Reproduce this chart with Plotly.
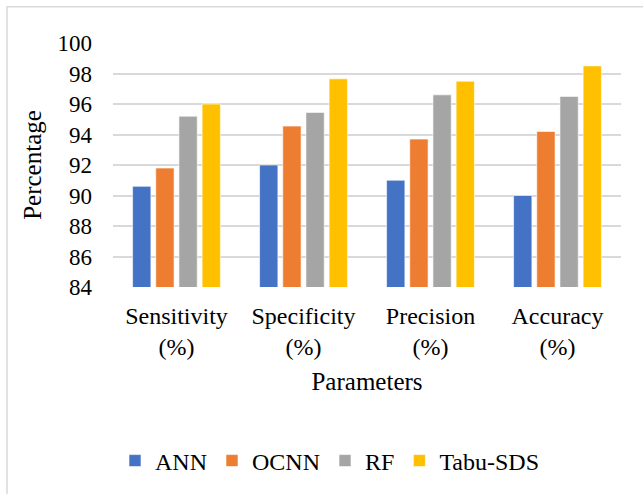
import plotly.graph_objects as go

categories = ["Sensitivity<br>(%)", "Specificity<br>(%)", "Precision<br>(%)", "Accuracy<br>(%)"]
ann = [90.6, 92.0, 91.0, 90.0]
ocnn = [91.8, 94.55, 93.7, 94.2]
rf = [95.2, 95.45, 96.6, 96.5]
tabu = [96.0, 97.65, 97.5, 98.5]

series_names = ["ANN", "OCNN", "RF", "Tabu-SDS"]
series_values = [ann, ocnn, rf, tabu]
colors = ["#4472C4", "#ED7D31", "#A5A5A5", "#FFC000"]

FONT = "Liberation Serif, Times New Roman, serif"

fig = go.Figure()
for name, vals, col in zip(series_names, series_values, colors):
    fig.add_trace(go.Bar(
        x=categories, y=vals, name=name,
        marker=dict(color=col, line=dict(color="rgba(255,255,255,0.6)", width=1)),
    ))

W, H = 643, 494
L, R, T, B = 113, 22, 43, 206
pw = W - L - R
ph = H - T - B

def px_x(x):
    return (x - L) / pw

def px_y(y):
    return (H - B - y) / ph

fig.update_layout(
    width=W, height=H,
    margin=dict(l=L, r=R, t=T, b=B, pad=0),
    paper_bgcolor="white", plot_bgcolor="white",
    barmode="group", bargap=0.27, bargroupgap=0.21,
    font=dict(family=FONT, size=23, color="#000000"),
    xaxis=dict(
        showgrid=False, showline=False, zeroline=False,
        ticks="", ticklabelstandoff=12,
        tickfont=dict(size=24, family=FONT),
        title=dict(text="Parameters", font=dict(size=25, family=FONT), standoff=13),
    ),
    yaxis=dict(
        range=[84, 100], dtick=2, tick0=84,
        showgrid=True, gridcolor="#D9D9D9", gridwidth=1.5,
        showline=False, zeroline=False, ticks="",
        ticklabelstandoff=20,
        tickfont=dict(size=23, family=FONT),
        title=dict(text="Percentage", font=dict(size=25, family=FONT), standoff=8),
    ),
    legend=dict(
        orientation="h", x=px_x(330), xanchor="center",
        y=px_y(461), yanchor="middle",
        font=dict(size=24, family=FONT),
        itemwidth=30, traceorder="normal",
        bgcolor="rgba(0,0,0,0)",
    ),
    shapes=[dict(
        type="rect", xref="paper", yref="paper",
        x0=px_x(7), x1=px_x(660), y0=px_y(510), y1=px_y(6.5),
        line=dict(color="#D9D9D9", width=1.5), fillcolor="rgba(0,0,0,0)",
        layer="below",
    )],
)

fig.write_html("out.html")
